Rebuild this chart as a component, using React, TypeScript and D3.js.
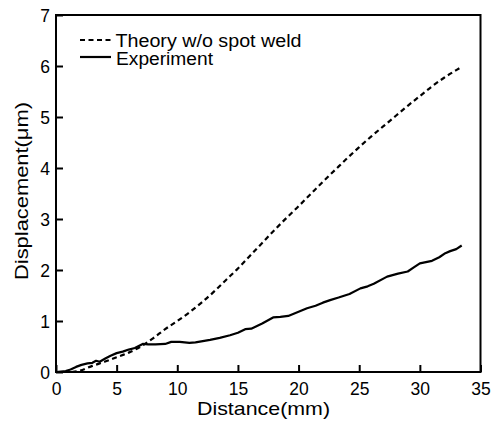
import React, { useRef, useEffect } from 'react';
import * as d3 from 'd3';

// Theory curve (no spot weld) — distance in mm, displacement in um
const theoryX = [1.3, 2, 3, 4, 5, 6, 7, 8, 9, 10, 11, 12, 13, 14, 15, 16, 17, 18, 19, 20, 21, 22, 23, 24, 25, 26, 27, 28, 29, 30, 31, 32, 33, 33.5];
const theoryY = [0, 0.03, 0.12, 0.2, 0.29, 0.38, 0.5, 0.66, 0.84, 1.0, 1.17, 1.36, 1.57, 1.8, 2.03, 2.28, 2.53, 2.78, 3.02, 3.25, 3.49, 3.73, 3.96, 4.19, 4.41, 4.62, 4.82, 5.02, 5.22, 5.41, 5.6, 5.77, 5.92, 5.99];

// Measured curve
const expX = [0, 0.8, 1.2, 1.65, 2.1, 2.6, 3.0, 3.3, 3.6, 4.1, 4.5, 5.0, 5.5, 6.0, 6.5, 7.15, 7.6, 8.2, 9.0, 9.5, 10.2, 11, 11.5, 12.7, 13.5, 14.35, 15, 15.6, 16.1, 17, 17.9, 18.5, 19.15, 20, 20.7, 21.4, 22, 22.6, 23.3, 24.2, 25.1, 25.7, 26.2, 27.3, 28.2, 29.0, 29.5, 30, 31, 31.6, 32.1, 32.5, 33, 33.45];
const expY = [0, 0.02, 0.05, 0.1, 0.14, 0.17, 0.18, 0.22, 0.2, 0.27, 0.32, 0.37, 0.4, 0.44, 0.47, 0.55, 0.54, 0.54, 0.55, 0.59, 0.59, 0.57, 0.58, 0.63, 0.67, 0.72, 0.77, 0.84, 0.85, 0.95, 1.07, 1.08, 1.1, 1.18, 1.25, 1.3, 1.36, 1.41, 1.46, 1.53, 1.64, 1.68, 1.73, 1.87, 1.93, 1.97, 2.05, 2.13, 2.18, 2.25, 2.33, 2.37, 2.41, 2.48];

const xTicks = [0, 5, 10, 15, 20, 25, 30, 35];
const yTicks = [0, 1, 2, 3, 4, 5, 6, 7];

const legendLabels = ['Theory w/o spot weld', 'Experiment'];

const FONT = '"Liberation Sans", Arial, Helvetica, sans-serif';

export default function App() {
  const svgRef = useRef<SVGSVGElement | null>(null);

  useEffect(() => {
    if (!svgRef.current) return;
    const svg = d3.select(svgRef.current);
    svg.selectAll('*').remove();

    const left = 56, right = 480.5, top = 15, bottom = 372;

    const x = d3.scaleLinear().domain([0, 35]).range([left, right]);
    const y = d3.scaleLinear().domain([0, 7]).range([bottom, top]);

    // x axis, ticks pointing inward
    const xAxis = svg.append('g')
      .attr('transform', `translate(0, ${bottom})`)
      .call(d3.axisBottom(x).tickValues(xTicks).tickFormat(d3.format('d')).tickSizeInner(-7).tickSizeOuter(0));
    xAxis.select('.domain').remove();
    xAxis.selectAll('line').attr('stroke', '#000').attr('stroke-width', 2);
    xAxis.selectAll('text')
      .attr('font-family', FONT).attr('font-size', 17.5).attr('fill', '#000')
      .attr('dy', '0.71em').attr('y', 10.5);

    // y axis
    const yAxis = svg.append('g')
      .attr('transform', `translate(${left}, 0)`)
      .call(d3.axisLeft(y).tickValues(yTicks).tickFormat(d3.format('d')).tickSizeInner(-7).tickSizeOuter(0));
    yAxis.select('.domain').remove();
    yAxis.selectAll('line').attr('stroke', '#000').attr('stroke-width', 2);
    yAxis.selectAll('text')
      .attr('font-family', FONT).attr('font-size', 17.5).attr('fill', '#000')
      .attr('x', -6).attr('dy', '0.36em');

    // frame
    svg.append('rect')
      .attr('x', left).attr('y', top)
      .attr('width', right - left).attr('height', bottom - top)
      .attr('fill', 'none').attr('stroke', '#000').attr('stroke-width', 2);

    const smooth = d3.line<[number, number]>()
      .x(d => x(d[0]))
      .y(d => y(d[1]))
      .curve(d3.curveMonotoneX);
    const line = d3.line<[number, number]>()
      .x(d => x(d[0]))
      .y(d => y(d[1]));

    const theory = theoryX.map((v, i) => [v, theoryY[i]] as [number, number]);
    const exp = expX.map((v, i) => [v, expY[i]] as [number, number]);

    svg.append('path')
      .attr('d', smooth(theory))
      .attr('fill', 'none').attr('stroke', '#000')
      .attr('stroke-width', 2.2).attr('stroke-dasharray', '5,3.5');

    svg.append('path')
      .attr('d', line(exp))
      .attr('fill', 'none').attr('stroke', '#000')
      .attr('stroke-width', 2.2).attr('stroke-linejoin', 'round');

    // legend
    const legend = svg.append('g');
    legend.append('line')
      .attr('x1', 80).attr('x2', 112).attr('y1', 40).attr('y2', 40)
      .attr('stroke', '#000').attr('stroke-width', 2).attr('stroke-dasharray', '5,3.5');
    legend.append('line')
      .attr('x1', 80).attr('x2', 111).attr('y1', 57).attr('y2', 57)
      .attr('stroke', '#000').attr('stroke-width', 2.2);
    legend.append('text')
      .attr('x', 115.5).attr('y', 47)
      .attr('font-family', FONT).attr('font-size', 18)
      .attr('textLength', 186).attr('lengthAdjust', 'spacingAndGlyphs')
      .text(legendLabels[0]);
    legend.append('text')
      .attr('x', 116).attr('y', 64.5)
      .attr('font-family', FONT).attr('font-size', 18)
      .attr('textLength', 97).attr('lengthAdjust', 'spacingAndGlyphs')
      .text(legendLabels[1]);

    // axis titles
    svg.append('text')
      .attr('x', 197).attr('y', 414.5)
      .attr('font-family', FONT).attr('font-size', 18.5)
      .attr('textLength', 133).attr('lengthAdjust', 'spacingAndGlyphs')
      .text('Distance(mm)');

    svg.append('text')
      .attr('transform', 'translate(27.5, 280) rotate(-90)')
      .attr('font-family', FONT).attr('font-size', 18.5)
      .attr('textLength', 178).attr('lengthAdjust', 'spacingAndGlyphs')
      .text('Displacement(\u03bcm)');
  }, []);

  return (
    <svg
      ref={svgRef}
      width={497}
      height={423}
      style={{ position: 'absolute', left: 0, top: 0, background: '#fff' }}
    />
  );
}
